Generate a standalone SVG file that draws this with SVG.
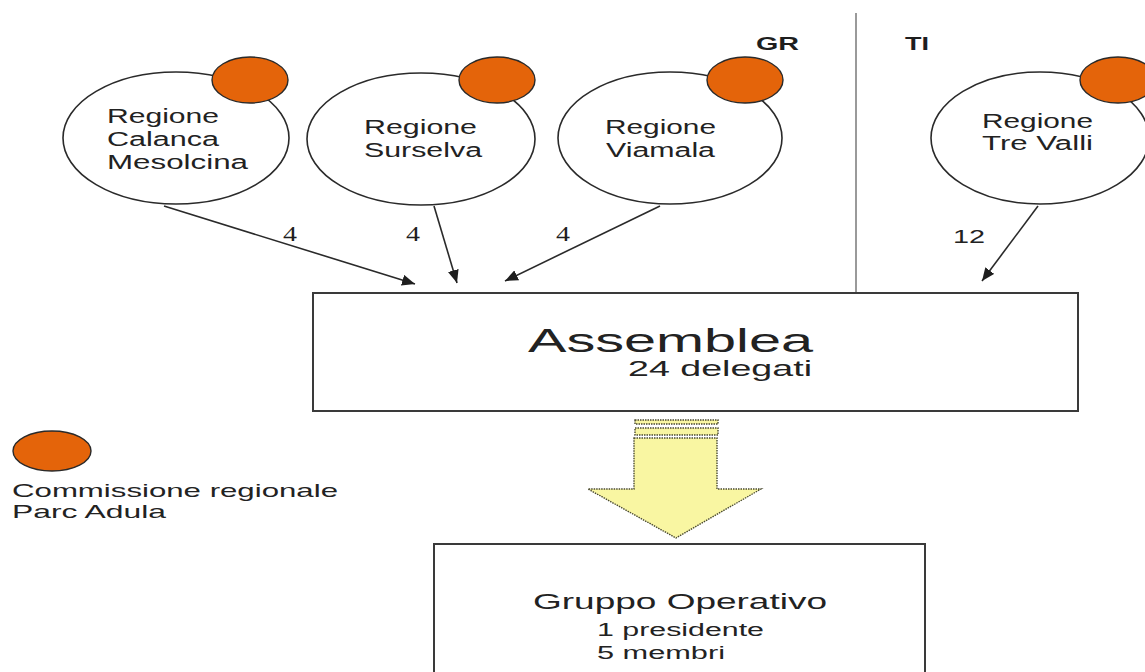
<svg xmlns="http://www.w3.org/2000/svg" width="1145" height="672" viewBox="0 0 1145 672">
  <style>
    .region { fill: #ffffff; stroke: #2a2a2a; stroke-width: 1.6; }
    .comm { fill: #e4640a; stroke: #2a2a2a; stroke-width: 1.4; }
    .box { fill: #ffffff; stroke: #3a3a3a; stroke-width: 2; }
    .txt { font-family: "Liberation Sans", Arial, sans-serif; fill: #222222; }
    .lbl { font-size: 20px; }
    .head { font-family: "Liberation Sans", Arial, sans-serif; font-weight: bold; font-size: 18px; fill: #1e1e1e; }
    .edge { stroke: #2a2a2a; stroke-width: 1.6; fill: none; marker-end: url(#tip); }
    .num { font-family: "Liberation Serif", "Times New Roman", serif; font-size: 21px; fill: #1e1e1e; }
    .flow { fill: #f9f6a2; stroke: #4a4a30; stroke-width: 1.4; stroke-dasharray: 1.5 1; }
  </style>
  <defs>
    <marker id="tip" markerWidth="14" markerHeight="11" refX="13" refY="5.5" orient="auto" markerUnits="userSpaceOnUse">
      <path d="M0,0 L13,5.5 L0,11 Z" fill="#1e1e1e"/>
    </marker>
  </defs>

  <rect width="1145" height="672" fill="#ffffff"/>

  <!-- canton divider -->
  <g id="divider">
    <line x1="856" y1="13" x2="856" y2="293" stroke="#9a9a9a" stroke-width="2"/>
    <text class="head" x="756" y="50" textLength="43" lengthAdjust="spacingAndGlyphs">GR</text>
    <text class="head" x="905" y="50" textLength="24" lengthAdjust="spacingAndGlyphs">TI</text>
  </g>

  <!-- regions -->
  <g id="region-calanca">
    <ellipse class="region" cx="176" cy="138" rx="113" ry="66"/>
    <ellipse class="comm" cx="250" cy="80" rx="38" ry="23"/>
    <text class="txt lbl" x="107" y="123" textLength="112" lengthAdjust="spacingAndGlyphs">Regione</text>
    <text class="txt lbl" x="107" y="146" textLength="112" lengthAdjust="spacingAndGlyphs">Calanca</text>
    <text class="txt lbl" x="107" y="169" textLength="141" lengthAdjust="spacingAndGlyphs">Mesolcina</text>
  </g>
  <g id="region-surselva">
    <ellipse class="region" cx="421" cy="139" rx="114" ry="66"/>
    <ellipse class="comm" cx="497" cy="80" rx="38" ry="23"/>
    <text class="txt lbl" x="364" y="134" textLength="113" lengthAdjust="spacingAndGlyphs">Regione</text>
    <text class="txt lbl" x="364" y="157" textLength="118" lengthAdjust="spacingAndGlyphs">Surselva</text>
  </g>
  <g id="region-viamala">
    <ellipse class="region" cx="670" cy="138" rx="112" ry="66"/>
    <ellipse class="comm" cx="745" cy="80" rx="38" ry="23"/>
    <text class="txt lbl" x="605" y="134" textLength="111" lengthAdjust="spacingAndGlyphs">Regione</text>
    <text class="txt lbl" x="606" y="157" textLength="109" lengthAdjust="spacingAndGlyphs">Viamala</text>
  </g>
  <g id="region-trevalli">
    <ellipse class="region" cx="1040" cy="138" rx="109" ry="66"/>
    <ellipse class="comm" cx="1118" cy="80" rx="38" ry="23"/>
    <text class="txt lbl" x="982" y="128" textLength="111" lengthAdjust="spacingAndGlyphs">Regione</text>
    <text class="txt lbl" x="982" y="150" textLength="111" lengthAdjust="spacingAndGlyphs">Tre Valli</text>
  </g>

  <!-- delegate connectors -->
  <g id="connectors">
    <line class="edge" x1="164" y1="206" x2="415" y2="284"/>
    <line class="edge" x1="434" y1="206" x2="457" y2="283"/>
    <line class="edge" x1="660" y1="206" x2="505" y2="281"/>
    <line class="edge" x1="1038" y1="206" x2="982" y2="281"/>
    <text class="num" x="283" y="241" textLength="14" lengthAdjust="spacingAndGlyphs">4</text>
    <text class="num" x="406" y="241" textLength="14" lengthAdjust="spacingAndGlyphs">4</text>
    <text class="num" x="556" y="241" textLength="14" lengthAdjust="spacingAndGlyphs">4</text>
    <text class="txt" x="953" y="243" font-size="19" textLength="32" lengthAdjust="spacingAndGlyphs">12</text>
  </g>

  <!-- assembly -->
  <g id="assemblea">
    <rect class="box" x="313" y="293" width="765" height="118"/>
    <text class="txt" x="528" y="352" font-size="33" textLength="285" lengthAdjust="spacingAndGlyphs">Assemblea</text>
    <text class="txt" x="628" y="376" font-size="22" textLength="184" lengthAdjust="spacingAndGlyphs">24 delegati</text>
  </g>

  <!-- block arrow -->
  <g id="flow-arrow">
    <rect class="flow" x="635" y="420" width="83" height="4"/>
    <rect class="flow" x="635" y="428" width="83" height="7"/>
    <path class="flow" d="M634,438 L717,438 L717,489 L761,489 L676,538 L588,489 L634,489 Z"/>
  </g>

  <!-- operative group -->
  <g id="gruppo-operativo">
    <rect class="box" x="434" y="544" width="491" height="140"/>
    <text class="txt" x="533" y="609" font-size="22" textLength="294" lengthAdjust="spacingAndGlyphs">Gruppo Operativo</text>
    <text class="txt" x="597" y="636" font-size="18" textLength="167" lengthAdjust="spacingAndGlyphs">1 presidente</text>
    <text class="txt" x="597" y="659" font-size="18" textLength="128" lengthAdjust="spacingAndGlyphs">5 membri</text>
  </g>

  <!-- legend -->
  <g id="legend">
    <ellipse class="comm" cx="52" cy="451" rx="39" ry="20"/>
    <text class="txt" x="12" y="497" font-size="19" textLength="326" lengthAdjust="spacingAndGlyphs">Commissione regionale</text>
    <text class="txt" x="12" y="518" font-size="19" textLength="154" lengthAdjust="spacingAndGlyphs">Parc Adula</text>
  </g>
</svg>
